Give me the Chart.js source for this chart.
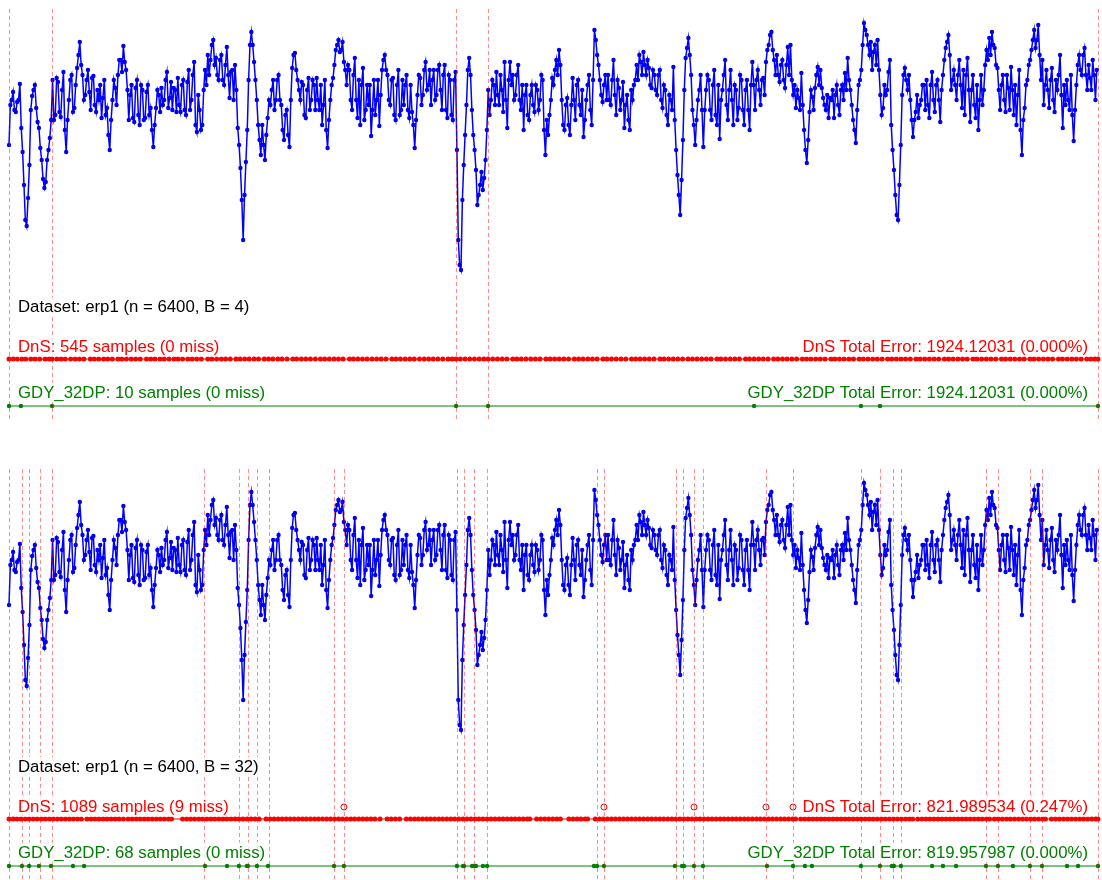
<!DOCTYPE html>
<html>
<head>
<meta charset="utf-8">
<title>erp1 sampling</title>
<script src="https://cdn.jsdelivr.net/npm/chart.js@4.4.1/dist/chart.umd.min.js"></script>
<style>
  html, body { margin: 0; padding: 0; background: #fff; overflow: hidden; }
  .panel { position: absolute; left: 0; width: 1102px; }
</style>
</head>
<body>
<div class="panel" style="top:0;height:460px"><canvas id="panelB4" width="1102" height="460"></canvas></div>
<div class="panel" style="top:460px;height:420px"><canvas id="panelB32" width="1102" height="420"></canvas></div>
<script>
// erp1 signal (n = 6400), read every 8th sample:
// erp1A holds samples 0, 16, 32, ...; erp1B holds samples 8, 24, 40, ...
const ERP_STEP = 16;
const erp1A = [
  -45, 0, -10, -2, 16, -52, -120, -98, -10, 10, -8,
  -28, -60, -88, -60, -38, 20, -15, 18, -17, 28, -52,
  0, 25, -8, 32, 58, 25, 5, 30, -10, 24, -12,
  0, -18, 20, -8, -50, 0, 12, 25, 40, 54, 30,
  -20, 15, -22, 20, -25, 10, -18, 15, -8, -47, -8,
  5, 12, 0, 28, 2, -10, 10, 22, -12, 20, -15,
  30, 0, 38, -32, -10, -25, 30, 45, 40, 60, 42,
  20, 45, 15, 53, 2, 30, 35, -28, -68, -140, -62,
  20, 68, 38, 0, -40, -25, -60, -18, -5, 20, 0,
  25, -5, -40, -10, -47, 32, 47, 20, 0, 15, -18,
  22, 0, 15, 22, -10, -25, 20, -48, 0, 22, 50,
  60, 50, 38, 15, 30, -10, 42, -18, -25, 32, -10,
  -5, -36, 20, 0, -26, 30, 45, 25, -5, 22, -20,
  30, -10, -5, 25, -18, -12, -48, 5, 22, 5, 38,
  15, -5, 30, 5, 35, -10, 35, -18, 20, -20, 28,
  -140, -170, -65, -5, 42, -10, -50, -105, -85, -90, -60,
  10, 0, 15, 28, -5, 10, 38, -28, 38, 25, 5,
  35, -10, -30, 15, -20, 15, -12, 10, 0, 20, -55,
  -35, 0, 15, 40, 50, 0, -30, 2, -35, 22, -20,
  20, -15, -37, 0, 25, -25, 70, 45, 20, -2, 25,
  25, -5, 40, -15, 12, 0, -28, 5, -30, 0, 20,
  20, 38, 48, 25, 32, 12, 25, 5, 30, -8, 10,
  -25, 0, 33, -50, -95, -80, 10, 52, 45, -10, -45,
  0, 25, -47, 10, 20, -20, 30, -25, -39, 10, 40,
  -20, 30, -25, 10, -8, 20, -25, 20, -30, 38, -10,
  30, -5, 22, 38, 55, 68, 40, 45, 18, 40, 12,
  53, 55, 5, -8, 2, 27, -30, -63, -12, 3, 12,
  33, 30, 2, -10, -18, 0, -18, 15, -15, 15, 27,
  42, 10, -20, -43, 15, 30, 77, 65, 45, 30, 55,
  60, 5, -8, 5, 28, -25, -70, -115, -85, 5, 32,
  10, 0, -37, -12, -18, 0, 15, 20, -18, 28, -12,
  20, -22, 25, 52, 65, 10, 30, 0, 40, -8, -15,
  42, -22, 25, -18, -30, 25, 10, 50, 62, 68, 52,
  32, -10, 25, -12, 12, 33, -15, -25, 30, -55, -8,
  20, 40, 60, 52, 75, 20, -5, 30, -8, 32, -12,
  10, 45, -28, -5, 0, 25, -41, 15, 45, 25, 52,
  10, 22, 40, 0
];
const erp1B = [
  -5, 8, -12, 0, -28, -85, -126, -65, 4, 15, -22,
  -48, -79, -82, -50, -20, -20, 22, -12, 10, -30, -20,
  20, -12, 15, 45, 35, 0, 20, 8, 22, -5, 10,
  15, 2, -15, -35, -20, 20, -5, 40, 28, 38, 10,
  5, -18, 12, -15, 15, -20, 8, -15, -30, -25, 10,
  -12, -5, 20, -8, 18, 12, -12, -5, 15, -10, 18,
  -10, 25, -25, 5, -30, 10, 15, 25, 55, 35, 25,
  40, 20, 35, 25, 28, 0, 10, -45, -100, -95, -30,
  55, 55, 20, -25, -55, -45, -35, 0, 10, -10, 20,
  0, -30, -15, -35, 0, 45, 30, 10, 18, -15, 10,
  -10, 20, -10, 0, 15, -5, -30, -20, 15, 35, 55,
  48, 58, 30, 35, 0, 25, 0, 20, 15, -20, 15,
  15, -10, -15, 20, 5, 40, 30, 0, 20, -15, 15,
  -15, 20, 15, -10, 15, -25, -20, 25, -5, 30, 10,
  30, 20, 0, 30, 10, 25, -10, 25, -15, 20, -50,
  -165, -100, -35, 30, 25, -35, -70, -95, -72, -78, -30,
  -15, 20, -5, 5, 25, -12, 0, 20, 15, 0, 25,
  0, 15, 5, -15, 5, -5, 15, -10, 25, -30, -20,
  -15, 22, 30, 25, 35, -25, -5, -25, -5, 0, 15,
  -5, 10, -20, 15, -10, 20, 60, 35, 5, 15, 0,
  0, 20, 5, 20, -10, 18, -5, -20, 10, 15, 35,
  45, 25, 35, 40, 15, 30, 10, 25, 0, 15, -15,
  5, -10, -20, -75, -115, -40, 42, 62, 25, -25, -20,
  10, -10, -10, 25, -10, 15, -15, 15, 0, 25, -5,
  10, 0, 15, -20, 25, -10, 10, -10, 15, 15, 20,
  10, 20, 5, 50, 65, 50, 25, 25, 35, 20, 35,
  25, 20, 15, 10, -10, -5, -50, -40, 10, -10, 25,
  15, 12, -5, 5, 2, 10, 5, -5, 10, 0, 10,
  20, -5, -30, -10, 20, 55, 70, 55, 58, 48, 35,
  30, -15, 15, 10, 40, -50, -95, -120, -45, 25, 20,
  25, -20, -20, 5, -5, 15, -10, -5, 15, 0, 15,
  0, 10, 40, 58, 45, 20, 15, 25, 15, 30, 25,
  10, 10, -5, 15, 0, -5, 35, 40, 45, 55, 35,
  10, 15, 0, 25, -10, 10, 15, 5, -30, -20, 15,
  35, 50, 70, 60, 45, 40, 15, 10, 20, 0, 20,
  25, 5, 15, 20, -10, -15, -10, 35, 30, 45, 25,
  35, 10, 25, 30
];

// segment boundaries (sample index)
const boundsB4 = [0, 253, 2627, 2815, 6399];
const boundsB32 = [0, 76, 118, 182, 253, 1146, 1351, 1404, 1457, 1528, 1910, 1968,
  2632, 2674, 2732, 2809, 3455, 3496, 3919, 3960, 4025, 4078, 4448, 4607,
  5006, 5118, 5194, 5241, 5741, 5811, 5999, 6070, 6399];

// DnS samples
const dnsB4 = [0, 25, 49, 76, 98, 128, 153, 180, 212, 236, 253, 281, 306, 330, 362, 389, 414, 440,
  478, 501, 527, 556, 580, 607, 640, 663, 690, 718, 744, 771, 808, 833, 858, 887, 912, 940, 970,
  993, 1020, 1051, 1076, 1103, 1130, 1168, 1192, 1220, 1248, 1273, 1300, 1334, 1358, 1385, 1411,
  1440, 1466, 1500, 1525, 1551, 1580, 1604, 1633, 1668, 1690, 1718, 1744, 1771, 1800, 1830, 1855,
  1882, 1910, 1936, 1963, 2001, 2024, 2050, 2077, 2104, 2133, 2160, 2187, 2215, 2250, 2274, 2300,
  2328, 2355, 2381, 2412, 2440, 2466, 2493, 2520, 2549, 2580, 2604, 2627, 2652, 2680, 2707, 2735,
  2763, 2790, 2815, 2842, 2870, 2898, 2925, 2960, 2984, 3010, 3038, 3066, 3093, 3120, 3155, 3180,
  3206, 3233, 3260, 3288, 3322, 3347, 3373, 3401, 3428, 3455, 3490, 3513, 3540, 3568, 3596, 3624,
  3658, 3682, 3708, 3735, 3762, 3790, 3825, 3849, 3876, 3903, 3930, 3958, 3990, 4016, 4043, 4070,
  4098, 4125, 4160, 4183, 4210, 4238, 4265, 4292, 4328, 4351, 4378, 4405, 4432, 4460, 4493, 4518,
  4545, 4572, 4600, 4628, 4662, 4686, 4712, 4740, 4767, 4795, 4830, 4853, 4880, 4907, 4935, 4962,
  4996, 5020, 5047, 5075, 5102, 5130, 5163, 5187, 5214, 5241, 5268, 5296, 5330, 5354, 5381, 5408,
  5436, 5463, 5497, 5521, 5548, 5576, 5603, 5630, 5665, 5688, 5715, 5743, 5770, 5798, 5832, 5856,
  5883, 5910, 5938, 5965, 5999, 6023, 6050, 6078, 6105, 6132, 6167, 6190, 6218, 6245, 6272, 6300,
  6333, 6357, 6380, 6399];
const dnsB32 = [0, 24, 47, 70, 95, 118, 142, 165, 190, 213, 237, 260, 284, 307, 331, 355, 378, 402,
  425, 458, 482, 505, 529, 553, 576, 600, 624, 647, 672, 700, 724, 748, 771, 795, 818, 842, 866, 889,
  913, 937, 955, 1020, 1044, 1067, 1091, 1115, 1138, 1162, 1186, 1209, 1233, 1257, 1280, 1304,
  1328, 1351, 1375, 1399, 1422, 1446, 1470, 1510, 1534, 1558, 1582, 1605, 1629, 1653, 1676, 1700,
  1724, 1747, 1771, 1795, 1818, 1842, 1866, 1889, 1913, 1937, 1960, 1984, 2008, 2031, 2055, 2079,
  2102, 2126, 2150, 2180, 2222, 2246, 2270, 2295, 2335, 2359, 2383, 2406, 2430, 2454, 2477, 2501,
  2525, 2548, 2572, 2596, 2619, 2643, 2667, 2690, 2714, 2738, 2761, 2785, 2809, 2832, 2856, 2880,
  2903, 2927, 2951, 2974, 2998, 3022, 3045, 3060, 3100, 3124, 3148, 3171, 3195, 3219, 3240, 3290,
  3314, 3338, 3361, 3385, 3400, 3445, 3469, 3492, 3516, 3540, 3563, 3587, 3611, 3634, 3658, 3682,
  3705, 3729, 3753, 3776, 3800, 3824, 3847, 3871, 3895, 3918, 3942, 3966, 3989, 4013, 4037, 4060,
  4084, 4108, 4131, 4155, 4179, 4202, 4226, 4250, 4273, 4297, 4321, 4344, 4368, 4392, 4415, 4439,
  4463, 4486, 4510, 4534, 4557, 4581, 4605, 4622, 4652, 4676, 4700, 4723, 4747, 4771, 4794, 4818,
  4842, 4865, 4889, 4913, 4936, 4960, 4984, 5007, 5031, 5055, 5078, 5102, 5126, 5149, 5173, 5197,
  5220, 5244, 5268, 5291, 5310, 5340, 5364, 5388, 5411, 5435, 5459, 5482, 5506, 5530, 5553, 5577,
  5601, 5624, 5648, 5672, 5695, 5719, 5743, 5762, 5790, 5813, 5837, 5861, 5884, 5908, 5932, 5955,
  5979, 6003, 6026, 6050, 6074, 6090, 6125, 6149, 6172, 6196, 6220, 6243, 6267, 6291, 6314, 6338,
  6362, 6385, 6399];
const dnsMissB32 = [1968, 3496, 4025, 4448, 4607];

// GDY_32DP samples
const gdyB4 = [0, 70, 253, 2627, 2815, 4378, 5006, 5118, 6399];
const gdyB32 = [0, 76, 118, 176, 247, 376, 441, 1152, 1281, 1351, 1398, 1404, 1457, 1522, 1910,
  1968, 2632, 2668, 2674, 2721, 2732, 2744, 2785, 2809, 3437, 3455, 3496, 3913, 3955, 3966, 4025,
  4078, 4454, 4607, 4677, 4718, 5006, 5118, 5188, 5200, 5241, 5424, 5488, 5565, 5741, 5811, 5899,
  5999, 6070, 6217, 6282, 6399];

// text rows
const textB4 = ['Dataset: erp1 (n = 6400, B = 4)', 'DnS: 545 samples (0 miss)',
  'DnS Total Error: 1924.12031 (0.000%)', 'GDY_32DP: 10 samples (0 miss)',
  'GDY_32DP Total Error: 1924.12031 (0.000%)'];
const textB32 = ['Dataset: erp1 (n = 6400, B = 32)', 'DnS: 1089 samples (9 miss)',
  'DnS Total Error: 821.989534 (0.247%)', 'GDY_32DP: 68 samples (0 miss)',
  'GDY_32DP Total Error: 819.957987 (0.000%)'];

// vertical levels of the strips below the signal (text levels are baselines)
const LEVEL = { boundTop: 91, title: -212, dnsText: -251.5, miss: -247, dns: -259, gdyText: -297.5, gdy: -306 };
const RED = '#ff0000';
const GREEN = '#008000';

const overlay = {
  id: 'overlay',
  afterDatasetsDraw(chart, args, o) {
    const { ctx, chartArea, scales: { x, y } } = chart;
    ctx.save();
    // segment boundaries
    ctx.strokeStyle = 'rgba(255,0,0,0.45)';
    ctx.lineWidth = 1;
    ctx.setLineDash([4, 3]);
    o.bounds.forEach(s => {
      const px = Math.round(x.getPixelForValue(s)) + 0.5;
      ctx.beginPath();
      ctx.moveTo(px, y.getPixelForValue(LEVEL.boundTop));
      ctx.lineTo(px, y.getPixelForValue(o.boundBottom));
      ctx.stroke();
    });
    ctx.setLineDash([]);

    // labels on a light box
    ctx.font = '16.8px "Liberation Sans", Arial, sans-serif';
    ctx.textBaseline = 'alphabetic';
    const left = chartArea.left + 9;
    const right = chartArea.right - 10;
    const rows = [
      [o.text[0], LEVEL.title, '#000', 'left'],
      [o.text[1], LEVEL.dnsText, RED, 'left'],
      [o.text[2], LEVEL.dnsText, RED, 'right'],
      [o.text[3], LEVEL.gdyText, GREEN, 'left'],
      [o.text[4], LEVEL.gdyText, GREEN, 'right']
    ];
    rows.forEach(([str, lvl, color, align]) => {
      const w = ctx.measureText(str).width;
      const tx = align === 'left' ? left : right - w;
      const ty = y.getPixelForValue(lvl);
      ctx.fillStyle = 'rgba(255,255,255,0.8)';
      ctx.fillRect(tx - 3, ty - 15, w + 6, 20);
      ctx.fillStyle = color;
      ctx.fillText(str, tx, ty);
    });
    ctx.restore();
  }
};

function makePanel(id, cfg) {
  const signal = [];
  erp1A.forEach((v, i) => {
    signal.push({ x: i * ERP_STEP, y: v });
    signal.push({ x: i * ERP_STEP + ERP_STEP / 2, y: erp1B[i] });
  });

  const datasets = [
    {
      data: signal,
      borderColor: '#0000ff',
      borderWidth: 1.5,
      pointRadius: 2.2,
      pointBorderWidth: 0,
      pointBackgroundColor: '#0000ee',
      clip: false
    },
    {
      data: cfg.dns.map(s => ({ x: s, y: LEVEL.dns })),
      borderColor: RED,
      borderWidth: 1,
      pointRadius: 2.5,
      pointBorderWidth: 0,
      pointBackgroundColor: RED,
      clip: false
    },
    {
      data: cfg.gdy.map(s => ({ x: s, y: LEVEL.gdy })),
      borderColor: GREEN,
      borderWidth: 1,
      pointRadius: 2.2,
      pointBorderWidth: 0,
      pointBackgroundColor: GREEN,
      clip: false
    },
    {
      data: cfg.miss.map(s => ({ x: s, y: LEVEL.miss })),
      showLine: false,
      pointRadius: 3,
      pointBorderWidth: 1,
      pointBorderColor: RED,
      pointBackgroundColor: '#fff',
      clip: false
    }
  ];

  new Chart(document.getElementById(id), {
    type: 'line',
    data: { datasets },
    options: {
      responsive: false,
      devicePixelRatio: 1,
      animation: false,
      layout: { autoPadding: false, padding: { left: 9, right: 4, top: 0, bottom: 0 } },
      scales: {
        x: { type: 'linear', min: 0, max: 6399, display: false },
        y: { type: 'linear', min: cfg.yMin, max: 100, display: false }
      },
      elements: { line: { tension: 0 } },
      plugins: {
        legend: { display: false },
        tooltip: { enabled: false },
        overlay: { bounds: cfg.bounds, boundBottom: cfg.boundBottom, text: cfg.text }
      }
    },
    plugins: [overlay]
  });
}

makePanel('panelB4', {
  dns: dnsB4, gdy: gdyB4, miss: [], bounds: boundsB4, text: textB4,
  yMin: -360, boundBottom: -322
});
makePanel('panelB32', {
  dns: dnsB32, gdy: gdyB32, miss: dnsMissB32, bounds: boundsB32, text: textB32,
  yMin: -320, boundBottom: -320
});
</script>
</body>
</html>
